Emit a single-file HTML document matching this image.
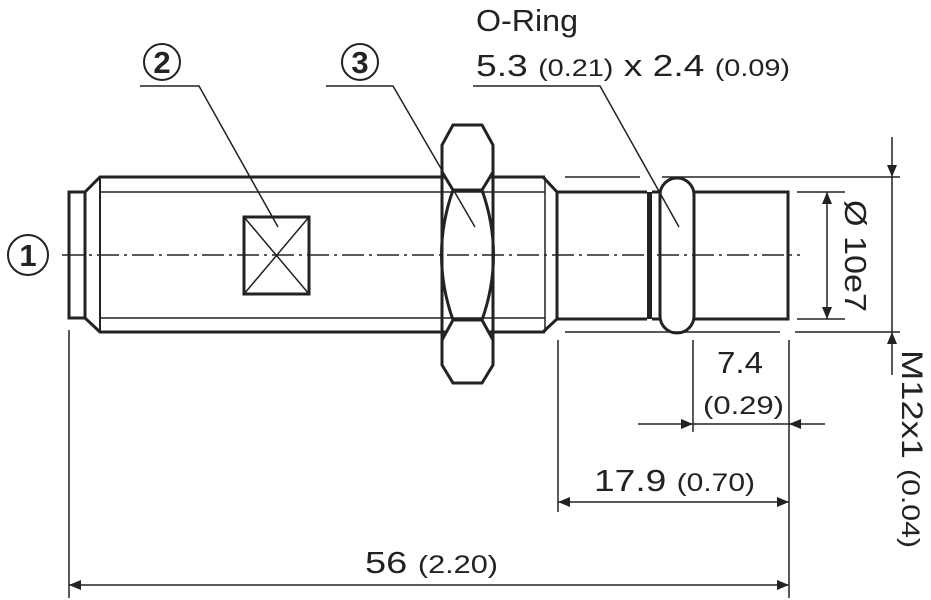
<!DOCTYPE html>
<html><head><meta charset="utf-8"><style>
html,body{margin:0;padding:0;background:#fff;}
svg{display:block;}
text{font-family:"Liberation Sans",sans-serif;fill:#222;}
</style></head><body>
<svg width="931" height="600" viewBox="0 0 931 600" xmlns="http://www.w3.org/2000/svg">
<defs>
<marker id="a" viewBox="0 0 12 10" refX="12" refY="5" markerWidth="12" markerHeight="10" orient="auto-start-reverse" markerUnits="userSpaceOnUse"><path d="M0,0 L12,5 L0,10 Z" fill="#222"/></marker>
</defs>
<g stroke="#222" fill="none">
<rect x="69" y="192" width="16" height="126" stroke-width="3"/>
<path d="M85,192 L100,177 L545,177 M85,318 L100,332 L545,332" stroke-width="3"/>
<line x1="100" y1="177" x2="100" y2="332" stroke-width="2"/>
<line x1="100" y1="192" x2="545" y2="192" stroke-width="1.5"/>
<line x1="100" y1="318" x2="545" y2="318" stroke-width="1.5"/>
<path d="M543,177 L557,192 L557,319 L543,332" stroke-width="3"/>
<line x1="545" y1="177" x2="545" y2="332" stroke-width="1.5"/>
<rect x="244" y="217" width="65" height="77" stroke-width="3"/>
<path d="M244,217 L309,294 M309,217 L244,294" stroke-width="1.5"/>
<path d="M453,125 L482,125 L493,145 L493,172 L482,190 L453,190 L442,172 L442,145 Z" fill="#fff" stroke-width="3"/>
<path d="M453,320 L482,320 L493,340 L493,365 L482,383 L453,383 L442,365 L442,340 Z" fill="#fff" stroke-width="3"/>
<path d="M453,190 Q430,255 453,320 M482,190 Q505,255 482,320" stroke-width="3"/>
<line x1="442" y1="145" x2="442" y2="365" stroke-width="3"/>
<line x1="493" y1="145" x2="493" y2="365" stroke-width="3"/>
<path d="M557,192 L647,192 M557,319 L647,319" stroke-width="3"/>
<rect x="647" y="192" width="5" height="127" fill="#222" stroke="none"/>
<path d="M652,192 L660,192 M652,319 L660,319" stroke-width="3"/>
<rect x="660" y="178" width="34" height="155" rx="17" ry="17" fill="#fff" stroke-width="3"/>
<path d="M694,192 L788,192 L788,319 L694,319" stroke-width="3"/>
<line x1="62" y1="255" x2="800" y2="255" stroke-width="1.5" stroke-dasharray="22,5,3,5"/>
<path d="M565,177 L640,177 M662,177 L900,177 M565,332 L780,332 M795,332 L900,332" stroke-width="1.5"/>
<path d="M797,192 L845,192 M797,319 L845,319" stroke-width="1.5"/>
<line x1="69" y1="330" x2="69" y2="598" stroke-width="1.5"/>
<line x1="558" y1="340" x2="558" y2="512" stroke-width="1.5"/>
<line x1="789" y1="340" x2="789" y2="598" stroke-width="1.5"/>
<line x1="693" y1="340" x2="693" y2="432" stroke-width="1.5"/>
<line x1="69" y1="585" x2="789" y2="585" stroke-width="1.5" marker-start="url(#a)" marker-end="url(#a)"/>
<line x1="558" y1="502" x2="789" y2="502" stroke-width="1.5" marker-start="url(#a)" marker-end="url(#a)"/>
<line x1="638" y1="424" x2="693" y2="424" stroke-width="1.5" marker-end="url(#a)"/>
<line x1="693" y1="424" x2="789" y2="424" stroke-width="1.5"/>
<line x1="825" y1="424" x2="789" y2="424" stroke-width="1.5" marker-end="url(#a)"/>
<line x1="827" y1="192" x2="827" y2="319" stroke-width="1.5" marker-start="url(#a)" marker-end="url(#a)"/>
<line x1="892" y1="137" x2="892" y2="177" stroke-width="1.5" marker-end="url(#a)"/>
<line x1="892" y1="177" x2="892" y2="332" stroke-width="1.5"/>
<line x1="892" y1="375" x2="892" y2="332" stroke-width="1.5" marker-end="url(#a)"/>
<path d="M140,86 L199,86 L278,227" stroke-width="1.5"/>
<path d="M326,86 L393,86 L475,227" stroke-width="1.5"/>
<path d="M473,86 L600,86 L679,227" stroke-width="1.5"/>
<circle cx="162" cy="62" r="18" stroke-width="2"/>
<circle cx="360" cy="62" r="18" stroke-width="2"/>
<circle cx="28" cy="255" r="20" stroke-width="2"/>
</g>
<text x="162" y="73" font-size="31" text-anchor="middle" font-weight="bold">2</text>
<text x="360" y="73" font-size="31" text-anchor="middle" font-weight="bold">3</text>
<text x="28" y="266" font-size="31" text-anchor="middle" font-weight="bold">1</text>
<text x="476" y="31" font-size="31" textLength="102" lengthAdjust="spacingAndGlyphs">O-Ring</text>
<text x="476" y="76" font-size="31" textLength="314" lengthAdjust="spacingAndGlyphs">5.3 <tspan font-size="24">(0.21)</tspan> x 2.4 <tspan font-size="24">(0.09)</tspan></text>
<text x="717" y="373" font-size="31" textLength="46" lengthAdjust="spacingAndGlyphs">7.4</text>
<text x="703" y="414" font-size="25" textLength="81" lengthAdjust="spacingAndGlyphs">(0.29)</text>
<text x="594" y="491" font-size="31" textLength="161" lengthAdjust="spacingAndGlyphs">17.9 <tspan font-size="25">(0.70)</tspan></text>
<text x="365" y="573" font-size="31" textLength="133" lengthAdjust="spacingAndGlyphs">56 <tspan font-size="25">(2.20)</tspan></text>
<text transform="translate(845,200) rotate(90)" font-size="31" textLength="112" lengthAdjust="spacingAndGlyphs">Ø 10e7</text>
<text transform="translate(902,350) rotate(90)" font-size="30" textLength="198" lengthAdjust="spacingAndGlyphs">M12x1 <tspan font-size="25">(0.04)</tspan></text>
</svg>
</body></html>
